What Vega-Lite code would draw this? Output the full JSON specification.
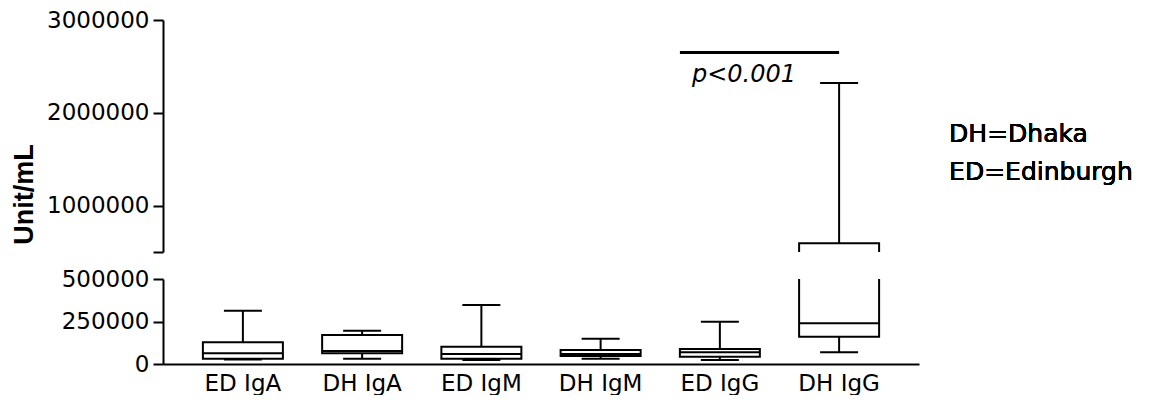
{
  "$schema": "https://vega.github.io/schema/vega-lite/v6.json",
  "background": "white",
  "padding": {"left": 10, "top": 9, "right": 0, "bottom": 0},
  "config": {
    "font": "DejaVu Sans",
    "view": {"stroke": null},
    "axis": {
      "labelFont": "DejaVu Sans",
      "labelFontSize": 23,
      "labelColor": "black",
      "domainColor": "black",
      "domainWidth": 2,
      "tickColor": "black",
      "tickWidth": 2,
      "tickSize": 10,
      "labelPadding": 4,
      "grid": false
    }
  },
  "datasets": {
    "stats": [
      {"group": "ED IgA", "min": 26500, "q1": 31200, "median": 62900, "q3": 127600, "max": 313500},
      {"group": "DH IgA", "min": 31200, "q1": 62900, "median": 76500, "q3": 170600, "max": 195900},
      {"group": "ED IgM", "min": 23500, "q1": 31200, "median": 58800, "q3": 101800, "max": 347000},
      {"group": "DH IgM", "min": 31200, "q1": 47000, "median": 58800, "q3": 82400, "max": 148800},
      {"group": "ED IgG", "min": 23500, "q1": 43000, "median": 68800, "q3": 88200, "max": 248800},
      {"group": "DH IgG", "min": 68800, "q1": 160600, "median": 239400, "q3": 595000, "max": 2320000}
    ],
    "comparison": [
      {"from": "ED IgG", "to": "DH IgG", "level": 2650000, "label": "p<0.001"}
    ]
  },
  "bounds": "flush",
  "spacing": 27,
  "resolve": {"scale": {"y": "independent"}},
  "vconcat": [
    {
      "width": 756,
      "height": 232,
      "data": {"name": "stats"},
      "encoding": {
        "x": {
          "field": "group", "type": "nominal", "sort": null,
          "scale": {"type": "band", "paddingInner": 0.33, "paddingOuter": 0.335},
          "axis": null
        }
      },
      "layer": [
        {
          "mark": {"type": "rule", "color": "black", "strokeWidth": 2, "clip": true},
          "encoding": {
            "y": {
              "field": "q3", "type": "quantitative",
              "scale": {"domain": [500000, 3000000], "nice": false, "zero": false},
              "axis": {
                "values": [500000, 1000000, 2000000, 3000000],
                "labelExpr": "datum.value == 500000 ? '' : format(datum.value, 'd')",
                "title": "Unit/mL",
                "titleFont": "Liberation Sans",
                "titleFontWeight": "bold",
                "titleFontSize": 27,
                "titleColor": "black",
                "titleAngle": -90,
                "titleAlign": "center",
                "titleBaseline": "alphabetic",
                "titleX": -131,
                "titleY": 174
              }
            },
            "y2": {"field": "max"}
          }
        },
        {
          "mark": {"type": "tick", "color": "black", "size": 38, "thickness": 2, "opacity": 1, "clip": true},
          "encoding": {"y": {"field": "max", "type": "quantitative"}}
        },
        {
          "mark": {"type": "bar", "fill": "white", "stroke": "black", "strokeWidth": 2, "size": 80, "clip": true},
          "encoding": {
            "y": {"field": "q1", "type": "quantitative"},
            "y2": {"field": "q3"}
          }
        },
        {
          "data": {"name": "comparison"},
          "mark": {"type": "rule", "color": "black", "strokeWidth": 3},
          "encoding": {
            "x": {"field": "from", "type": "nominal", "bandPosition": 0},
            "x2": {"field": "to"},
            "y": {"field": "level", "type": "quantitative"}
          }
        },
        {
          "data": {"name": "comparison"},
          "mark": {"type": "text", "align": "left", "baseline": "alphabetic", "dx": 12, "dy": 30, "fontSize": 24, "fontStyle": "italic", "font": "DejaVu Sans", "color": "black"},
          "encoding": {
            "x": {"field": "from", "type": "nominal", "bandPosition": 0},
            "y": {"field": "level", "type": "quantitative"},
            "text": {"field": "label"}
          }
        },
        {
          "mark": {"type": "text", "align": "left", "baseline": "alphabetic", "dx": 110, "fontSize": 25, "lineHeight": 38, "font": "DejaVu Sans", "color": "black", "text": ["DH=Dhaka", "ED=Edinburgh"]},
          "encoding": {
            "x": {"datum": "DH IgG"},
            "y": {"datum": 1690000}
          }
        }
      ]
    },
    {
      "width": 756,
      "height": 85,
      "data": {"name": "stats"},
      "encoding": {
        "x": {
          "field": "group", "type": "nominal", "sort": null,
          "scale": {"type": "band", "paddingInner": 0.33, "paddingOuter": 0.335},
          "axis": {"title": null, "ticks": false, "labelAngle": 0, "labelPadding": 8, "labelFontSize": 23}
        }
      },
      "layer": [
        {
          "mark": {"type": "rule", "color": "black", "strokeWidth": 2, "clip": true},
          "encoding": {
            "y": {
              "field": "q3", "type": "quantitative",
              "scale": {"domain": [0, 500000], "nice": false, "zero": false},
              "axis": {"values": [0, 250000, 500000], "format": "d", "title": null}
            },
            "y2": {"field": "max"}
          }
        },
        {
          "mark": {"type": "rule", "color": "black", "strokeWidth": 2, "clip": true},
          "encoding": {
            "y": {"field": "min", "type": "quantitative"},
            "y2": {"field": "q1"}
          }
        },
        {
          "mark": {"type": "tick", "color": "black", "size": 38, "thickness": 2, "opacity": 1, "clip": true},
          "encoding": {"y": {"field": "max", "type": "quantitative"}}
        },
        {
          "mark": {"type": "tick", "color": "black", "size": 38, "thickness": 2, "opacity": 1, "clip": true},
          "encoding": {"y": {"field": "min", "type": "quantitative"}}
        },
        {
          "mark": {"type": "bar", "fill": "white", "stroke": "black", "strokeWidth": 2, "size": 80, "clip": true},
          "encoding": {
            "y": {"field": "q1", "type": "quantitative"},
            "y2": {"field": "q3"}
          }
        },
        {
          "mark": {"type": "tick", "color": "black", "size": 80, "thickness": 2, "opacity": 1, "clip": true},
          "encoding": {"y": {"field": "median", "type": "quantitative"}}
        }
      ]
    }
  ]
}
